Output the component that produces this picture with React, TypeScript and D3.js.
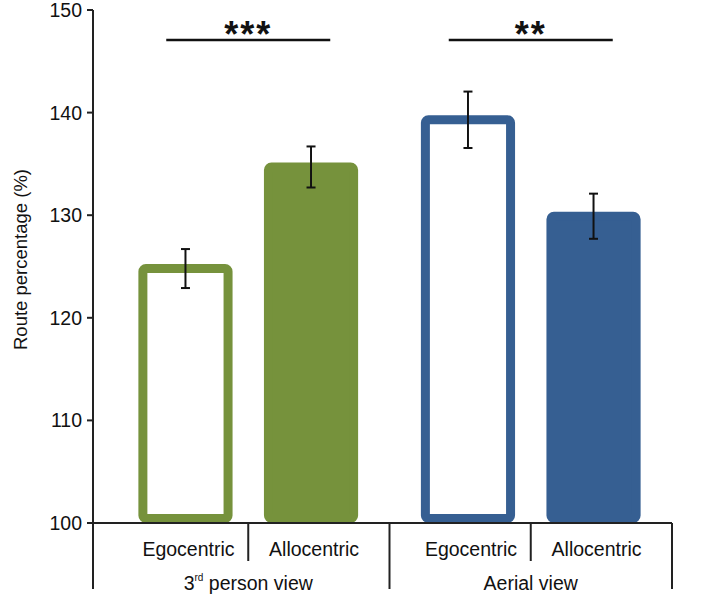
import React from 'react';
import * as d3 from 'd3';

// values
const groups = ['3rd person view', 'Aerial view'];
const conditions = ['Egocentric', 'Allocentric'];
const thirdPersonMeans = [124.8, 134.7];
const thirdPersonErr = [1.9, 2.0];
const aerialMeans = [139.3, 129.9];
const aerialErr = [2.75, 2.2];
const yTicks = [100, 110, 120, 130, 140, 150];
const significance = ['***', '**'];

const GREEN = '#76923c';
const BLUE = '#365f92';
const AXIS = '#222';
const FONT = 'Arial, "Liberation Sans", sans-serif';

const rows = [
  { group: groups[0], color: GREEN, means: thirdPersonMeans, errs: thirdPersonErr },
  { group: groups[1], color: BLUE, means: aerialMeans, errs: aerialErr },
];

export default function App() {
  const width = 708;
  const height = 603;
  const axisX = 93;
  const baseY = 523;
  const bottomY = 589;
  const stroke = 9;

  const y = d3.scaleLinear().domain([100, 150]).range([baseY, 10]);
  const xGroup = d3.scaleBand().domain(groups).range([107, 672]).padding(0);
  const xCond = d3
    .scaleBand()
    .domain(conditions)
    .range([0, xGroup.bandwidth()])
    .paddingInner(0.25)
    .paddingOuter(0.25);

  const condCenter = (g: string, c: string) =>
    (xGroup(g) as number) + (xCond(c) as number) + xCond.bandwidth() / 2;

  const bw = xCond.bandwidth();

  return (
    <div style={{ position: 'absolute', left: 0, top: 0 }}>
      <svg width={width} height={height} style={{ display: 'block' }} fontFamily={FONT}>
        {/* y axis */}
        <line x1={axisX} x2={axisX} y1={y(150)} y2={bottomY} stroke={AXIS} strokeWidth={2} />
        {yTicks.map((t) => (
          <g key={t} transform={`translate(0,${y(t)})`}>
            <line x1={axisX - 6} x2={axisX} stroke={AXIS} strokeWidth={2} />
            <text x={axisX - 11} dy="0.36em" textAnchor="end" fontSize={19.5} fill="#111">
              {t}
            </text>
          </g>
        ))}
        <text
          transform={`translate(27,${(y(150) + bottomY) / 2 - 40}) rotate(-90)`}
          textAnchor="middle"
          fontSize={18.5}
          fill="#111"
        >
          Route percentage (%)
        </text>

        {/* bars */}
        {rows.map((r, gi) =>
          conditions.map((c, ci) => {
            const x0 = (xGroup(r.group) as number) + (xCond(c) as number);
            const top = y(r.means[ci]);
            const hollow = ci === 0;
            return (
              <rect
                key={r.group + c}
                x={x0 + stroke / 2}
                y={top}
                width={bw - stroke}
                height={baseY - top - stroke / 2}
                rx={3}
                fill={hollow ? '#fff' : r.color}
                stroke={r.color}
                strokeWidth={stroke}
                strokeLinejoin="round"
              />
            );
          })
        )}

        {/* error bars */}
        {rows.map((r) =>
          conditions.map((c, ci) => {
            const cx = condCenter(r.group, c);
            const hi = y(r.means[ci] + r.errs[ci]);
            const lo = y(r.means[ci] - r.errs[ci]);
            return (
              <g key={'e' + r.group + c} stroke="#111" strokeWidth={2}>
                <line x1={cx} x2={cx} y1={hi} y2={lo} />
                <line x1={cx - 4.5} x2={cx + 4.5} y1={hi} y2={hi} />
                <line x1={cx - 4.5} x2={cx + 4.5} y1={lo} y2={lo} />
              </g>
            );
          })
        )}

        {/* x axis */}
        <line x1={axisX} x2={xGroup.range()[1]} y1={baseY} y2={baseY} stroke={AXIS} strokeWidth={2} />
        {groups.map((g, gi) => {
          const gx = xGroup(g) as number;
          const mid = (condCenter(g, conditions[0]) + condCenter(g, conditions[1])) / 2;
          const right = gx + xGroup.bandwidth();
          return (
            <g key={g}>
              <line x1={mid} x2={mid} y1={baseY} y2={561} stroke={AXIS} strokeWidth={2} />
              <line x1={right} x2={right} y1={baseY} y2={bottomY} stroke={AXIS} strokeWidth={2} />
              {conditions.map((c) => (
                <text
                  key={c}
                  x={condCenter(g, c) + 3}
                  y={556}
                  textAnchor="middle"
                  fontSize={19.5}
                  fill="#111"
                >
                  {c}
                </text>
              ))}
              <text x={gx + xGroup.bandwidth() / 2} y={590} textAnchor="middle" fontSize={19.5} fill="#111">
                {gi === 0 ? (
                  <>
                    3<tspan fontSize={10} dy={-9}>rd</tspan>
                    <tspan dy={9}> person view</tspan>
                  </>
                ) : (
                  g
                )}
              </text>
              {/* significance bracket */}
              <line
                x1={mid - 82}
                x2={mid + 82}
                y1={40}
                y2={40}
                stroke="#111"
                strokeWidth={2.5}
              />
              <text
                x={mid}
                y={47}
                textAnchor="middle"
                fontSize={36}
                fontWeight="bold"
                letterSpacing={2}
                fill="#111"
              >
                {significance[gi]}
              </text>
            </g>
          );
        })}
      </svg>
    </div>
  );
}
